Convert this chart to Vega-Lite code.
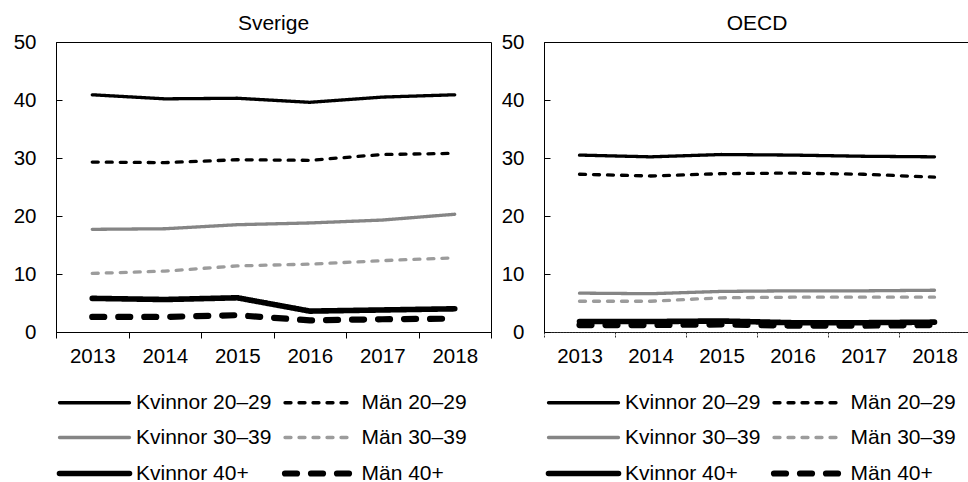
{
  "$schema": "https://vega.github.io/schema/vega-lite/v6.json",
  "background": "white",
  "padding": {"left": 12, "top": 12, "right": 0, "bottom": 0},
  "spacing": 53,
  "bounds": "flush",
  "datasets": {
    "d": [
      {"region": "Sverige", "series": "Kvinnor 20–29", "year": "2013", "value": 40.9},
      {"region": "Sverige", "series": "Kvinnor 20–29", "year": "2014", "value": 40.2},
      {"region": "Sverige", "series": "Kvinnor 20–29", "year": "2015", "value": 40.3},
      {"region": "Sverige", "series": "Kvinnor 20–29", "year": "2016", "value": 39.6},
      {"region": "Sverige", "series": "Kvinnor 20–29", "year": "2017", "value": 40.5},
      {"region": "Sverige", "series": "Kvinnor 20–29", "year": "2018", "value": 40.9},
      {"region": "Sverige", "series": "Män 20–29", "year": "2013", "value": 29.3},
      {"region": "Sverige", "series": "Män 20–29", "year": "2014", "value": 29.2},
      {"region": "Sverige", "series": "Män 20–29", "year": "2015", "value": 29.7},
      {"region": "Sverige", "series": "Män 20–29", "year": "2016", "value": 29.6},
      {"region": "Sverige", "series": "Män 20–29", "year": "2017", "value": 30.6},
      {"region": "Sverige", "series": "Män 20–29", "year": "2018", "value": 30.8},
      {"region": "Sverige", "series": "Kvinnor 30–39", "year": "2013", "value": 17.7},
      {"region": "Sverige", "series": "Kvinnor 30–39", "year": "2014", "value": 17.8},
      {"region": "Sverige", "series": "Kvinnor 30–39", "year": "2015", "value": 18.5},
      {"region": "Sverige", "series": "Kvinnor 30–39", "year": "2016", "value": 18.8},
      {"region": "Sverige", "series": "Kvinnor 30–39", "year": "2017", "value": 19.3},
      {"region": "Sverige", "series": "Kvinnor 30–39", "year": "2018", "value": 20.3},
      {"region": "Sverige", "series": "Män 30–39", "year": "2013", "value": 10.1},
      {"region": "Sverige", "series": "Män 30–39", "year": "2014", "value": 10.5},
      {"region": "Sverige", "series": "Män 30–39", "year": "2015", "value": 11.4},
      {"region": "Sverige", "series": "Män 30–39", "year": "2016", "value": 11.7},
      {"region": "Sverige", "series": "Män 30–39", "year": "2017", "value": 12.3},
      {"region": "Sverige", "series": "Män 30–39", "year": "2018", "value": 12.8},
      {"region": "Sverige", "series": "Kvinnor 40+", "year": "2013", "value": 5.8},
      {"region": "Sverige", "series": "Kvinnor 40+", "year": "2014", "value": 5.6},
      {"region": "Sverige", "series": "Kvinnor 40+", "year": "2015", "value": 5.9},
      {"region": "Sverige", "series": "Kvinnor 40+", "year": "2016", "value": 3.6},
      {"region": "Sverige", "series": "Kvinnor 40+", "year": "2017", "value": 3.8},
      {"region": "Sverige", "series": "Kvinnor 40+", "year": "2018", "value": 4.0},
      {"region": "Sverige", "series": "Män 40+", "year": "2013", "value": 2.6},
      {"region": "Sverige", "series": "Män 40+", "year": "2014", "value": 2.6},
      {"region": "Sverige", "series": "Män 40+", "year": "2015", "value": 2.9},
      {"region": "Sverige", "series": "Män 40+", "year": "2016", "value": 2.0},
      {"region": "Sverige", "series": "Män 40+", "year": "2017", "value": 2.2},
      {"region": "Sverige", "series": "Män 40+", "year": "2018", "value": 2.3},
      {"region": "OECD", "series": "Kvinnor 20–29", "year": "2013", "value": 30.5},
      {"region": "OECD", "series": "Kvinnor 20–29", "year": "2014", "value": 30.2},
      {"region": "OECD", "series": "Kvinnor 20–29", "year": "2015", "value": 30.6},
      {"region": "OECD", "series": "Kvinnor 20–29", "year": "2016", "value": 30.5},
      {"region": "OECD", "series": "Kvinnor 20–29", "year": "2017", "value": 30.3},
      {"region": "OECD", "series": "Kvinnor 20–29", "year": "2018", "value": 30.2},
      {"region": "OECD", "series": "Män 20–29", "year": "2013", "value": 27.2},
      {"region": "OECD", "series": "Män 20–29", "year": "2014", "value": 26.9},
      {"region": "OECD", "series": "Män 20–29", "year": "2015", "value": 27.3},
      {"region": "OECD", "series": "Män 20–29", "year": "2016", "value": 27.4},
      {"region": "OECD", "series": "Män 20–29", "year": "2017", "value": 27.2},
      {"region": "OECD", "series": "Män 20–29", "year": "2018", "value": 26.7},
      {"region": "OECD", "series": "Kvinnor 30–39", "year": "2013", "value": 6.7},
      {"region": "OECD", "series": "Kvinnor 30–39", "year": "2014", "value": 6.6},
      {"region": "OECD", "series": "Kvinnor 30–39", "year": "2015", "value": 7.0},
      {"region": "OECD", "series": "Kvinnor 30–39", "year": "2016", "value": 7.1},
      {"region": "OECD", "series": "Kvinnor 30–39", "year": "2017", "value": 7.1},
      {"region": "OECD", "series": "Kvinnor 30–39", "year": "2018", "value": 7.2},
      {"region": "OECD", "series": "Män 30–39", "year": "2013", "value": 5.3},
      {"region": "OECD", "series": "Män 30–39", "year": "2014", "value": 5.3},
      {"region": "OECD", "series": "Män 30–39", "year": "2015", "value": 5.9},
      {"region": "OECD", "series": "Män 30–39", "year": "2016", "value": 6.0},
      {"region": "OECD", "series": "Män 30–39", "year": "2017", "value": 6.0},
      {"region": "OECD", "series": "Män 30–39", "year": "2018", "value": 6.0},
      {"region": "OECD", "series": "Kvinnor 40+", "year": "2013", "value": 1.8},
      {"region": "OECD", "series": "Kvinnor 40+", "year": "2014", "value": 1.8},
      {"region": "OECD", "series": "Kvinnor 40+", "year": "2015", "value": 1.9},
      {"region": "OECD", "series": "Kvinnor 40+", "year": "2016", "value": 1.6},
      {"region": "OECD", "series": "Kvinnor 40+", "year": "2017", "value": 1.6},
      {"region": "OECD", "series": "Kvinnor 40+", "year": "2018", "value": 1.7},
      {"region": "OECD", "series": "Män 40+", "year": "2013", "value": 1.2},
      {"region": "OECD", "series": "Män 40+", "year": "2014", "value": 1.2},
      {"region": "OECD", "series": "Män 40+", "year": "2015", "value": 1.3},
      {"region": "OECD", "series": "Män 40+", "year": "2016", "value": 1.1},
      {"region": "OECD", "series": "Män 40+", "year": "2017", "value": 1.1},
      {"region": "OECD", "series": "Män 40+", "year": "2018", "value": 1.2}
    ]
  },
  "hconcat": [
    {
      "width": 435,
      "height": 290,
      "title": {"text": "Sverige"},
      "data": {"name": "d"},
      "transform": [{"filter": "datum.region === 'Sverige'"}],
      "mark": {"type": "line", "strokeCap": "round", "strokeJoin": "round"},
      "encoding": {
        "x": {"field": "year", "type": "ordinal", "bandPosition": 0.5,
          "scale": {"type": "band", "paddingInner": 0, "paddingOuter": 0},
          "axis": {"title": null, "tickBand": "extent", "labelAngle": 0}},
        "y": {"field": "value", "type": "quantitative",
          "scale": {"domain": [0, 50], "nice": false},
          "axis": {"title": null, "values": [0, 10, 20, 30, 40, 50]}},
        "color": {"field": "series", "type": "nominal",
          "scale": {"domain": ["Kvinnor 20–29", "Kvinnor 30–39", "Kvinnor 40+", "Män 20–29", "Män 30–39", "Män 40+"],
            "range": ["#000000", "#858585", "#000000", "#000000", "#9c9c9c", "#000000"]},
          "legend": {"title": null, "orient": "none", "legendX": 0, "legendY": 350, "columns": 2,
            "encode": {"symbols": {"update": {
              "strokeWidth": {"signal": "(datum.value === 'Kvinnor 40+' ? 5.6 : datum.value === 'Män 40+' ? 6.2 : 3.3)"},
              "strokeDash": {"signal": "(datum.value === 'Män 40+' ? [12, 14] : (datum.value === 'Män 20–29' || datum.value === 'Män 30–39') ? [6, 8] : [1, 0])"},
              "strokeCap": {"value": "round"}}}}}},
        "strokeDash": {"field": "series", "type": "nominal",
          "scale": {"domain": ["Kvinnor 20–29", "Kvinnor 30–39", "Kvinnor 40+", "Män 20–29", "Män 30–39", "Män 40+"],
            "range": [[1, 0], [1, 0], [1, 0], [6, 8], [6, 8], [12, 14]]},
          "legend": null},
        "strokeWidth": {"condition": [
            {"test": "datum.series === 'Kvinnor 40+'", "value": 5.6},
            {"test": "datum.series === 'Män 40+'", "value": 6.2}], "value": 3.3}
      }
    },
    {
      "width": 426,
      "height": 290,
      "title": {"text": "OECD"},
      "data": {"name": "d"},
      "transform": [{"filter": "datum.region === 'OECD'"}],
      "mark": {"type": "line", "strokeCap": "round", "strokeJoin": "round"},
      "encoding": {
        "x": {"field": "year", "type": "ordinal", "bandPosition": 0.5,
          "scale": {"type": "band", "paddingInner": 0, "paddingOuter": 0},
          "axis": {"title": null, "tickBand": "extent", "labelAngle": 0,
            "domainDash": [2, 1], "tickDash": [2, 1], "domainColor": "#333333", "tickColor": "#333333"}},
        "y": {"field": "value", "type": "quantitative",
          "scale": {"domain": [0, 50], "nice": false},
          "axis": {"title": null, "values": [0, 10, 20, 30, 40, 50]}},
        "color": {"field": "series", "type": "nominal",
          "scale": {"domain": ["Kvinnor 20–29", "Kvinnor 30–39", "Kvinnor 40+", "Män 20–29", "Män 30–39", "Män 40+"],
            "range": ["#000000", "#858585", "#000000", "#000000", "#9c9c9c", "#000000"]},
          "legend": {"title": null, "orient": "none", "legendX": 1, "legendY": 350, "columns": 2,
            "encode": {"symbols": {"update": {
              "strokeWidth": {"signal": "(datum.value === 'Kvinnor 40+' ? 5.6 : datum.value === 'Män 40+' ? 6.2 : 3.3)"},
              "strokeDash": {"signal": "(datum.value === 'Män 40+' ? [12, 14] : (datum.value === 'Män 20–29' || datum.value === 'Män 30–39') ? [6, 8] : [1, 0])"},
              "strokeCap": {"value": "round"}}}}}},
        "strokeDash": {"field": "series", "type": "nominal",
          "scale": {"domain": ["Kvinnor 20–29", "Kvinnor 30–39", "Kvinnor 40+", "Män 20–29", "Män 30–39", "Män 40+"],
            "range": [[1, 0], [1, 0], [1, 0], [6, 8], [6, 8], [12, 14]]},
          "legend": null},
        "strokeWidth": {"condition": [
            {"test": "datum.series === 'Kvinnor 40+'", "value": 5.6},
            {"test": "datum.series === 'Män 40+'", "value": 6.2}], "value": 3.3}
      }
    }
  ],
  "resolve": {
    "scale": {"x": "independent", "y": "independent", "color": "independent", "strokeDash": "independent"},
    "legend": {"color": "independent"}
  },
  "config": {
    "font": "Liberation Sans",
    "view": {"stroke": "#000000", "strokeWidth": 1},
    "title": {"fontSize": 21, "fontWeight": "normal", "font": "Liberation Sans", "color": "#000000", "offset": -2, "anchor": "middle"},
    "axis": {"grid": false, "labelFont": "Liberation Sans", "labelFontSize": 20.5, "labelColor": "#000000",
      "domainColor": "#000000", "tickColor": "#000000", "domainWidth": 1, "tickWidth": 1},
    "axisX": {"tickSize": 6, "labelPadding": 8},
    "axisY": {"tickSize": -6, "labelPadding": 26},
    "legend": {"labelFont": "Liberation Sans", "labelFontSize": 21, "labelColor": "#000000",
      "symbolType": "M-1.4,0H12.6", "symbolSize": 100, "labelOffset": 59, "rowPadding": 13, "columnPadding": 0.5,
      "labelLimit": 400, "symbolOpacity": 1}
  }
}
